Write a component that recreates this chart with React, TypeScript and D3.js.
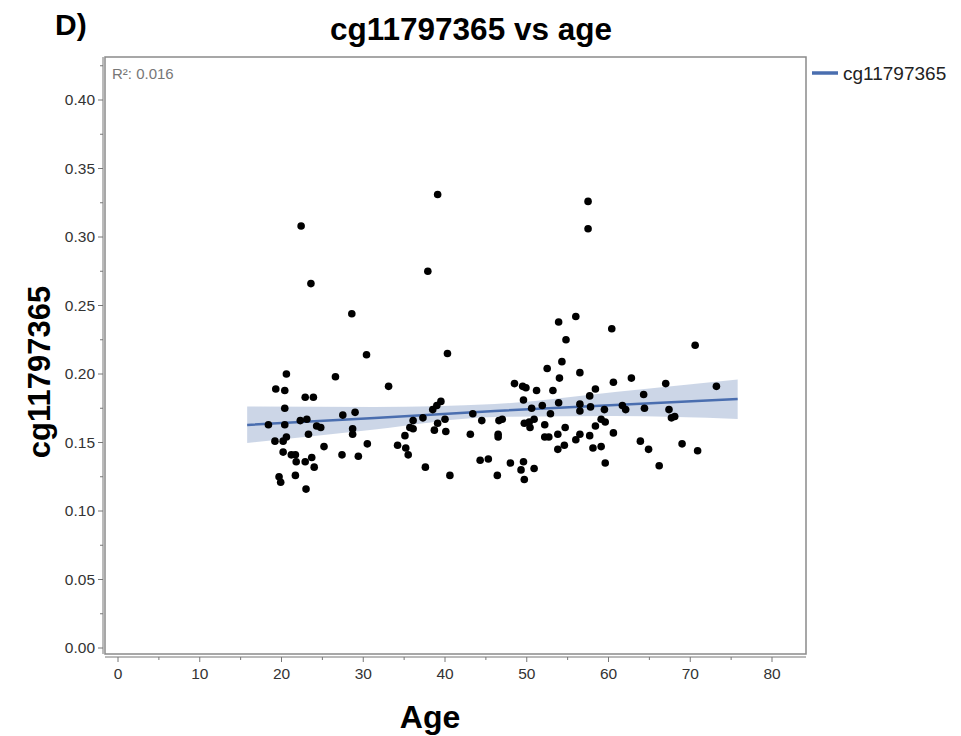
import * as d3 from 'd3'

// Age (years) of each sample
const ages: number[] = [
  39.1, 22.4, 37.9, 23.6, 28.6, 30.4, 40.3, 57.5, 57.5, 53.9, 56.0, 60.4, 54.8, 54.3, 52.5, 56.5, 54.0, 62.8, 60.6, 70.6, 20.6, 26.6,
  19.3, 20.4, 22.9, 23.9, 20.4, 27.5, 29.0, 18.4, 20.4, 22.3, 23.1, 24.3, 24.8, 28.7, 28.7, 23.3, 19.2, 20.2, 20.6, 30.5, 25.2, 20.2,
  21.2, 21.7, 21.8, 22.9, 23.7, 24.0, 27.4, 29.4, 21.7, 19.7, 19.9, 23.0,
  33.1, 39.5, 39.0, 38.5, 36.1, 37.3, 40.0, 43.4, 44.5, 35.7, 36.1, 39.1, 38.7, 40.1, 43.1, 35.1, 34.2, 35.2, 35.5, 37.6, 40.6, 44.3, 45.3,
  48.5, 49.5, 49.9, 51.2, 53.2, 58.4, 57.7, 49.6, 51.9, 53.9, 56.5, 50.6, 57.8, 56.5, 52.9, 59.5, 46.6, 47.0, 49.7, 50.3, 50.9, 50.4,
  52.2, 54.7, 58.4, 59.1, 59.6, 46.5, 46.5, 52.2, 52.7, 53.8, 56.5, 57.7, 60.6, 56.0, 54.6, 53.8, 58.1, 59.1, 48.0, 49.6, 49.3, 50.9,
  59.6, 46.4, 49.7,
  67.0, 73.2, 64.3, 61.7, 62.1, 64.4, 67.4, 68.1, 67.7, 63.9, 64.9, 69.0, 70.9, 66.2,
]

// cg11797365 methylation value for each sample (same order as ages)
const values: number[] = [
  0.331, 0.308, 0.275, 0.266, 0.244, 0.214, 0.215, 0.326, 0.306, 0.238, 0.242, 0.233, 0.225, 0.209, 0.204, 0.201, 0.197, 0.197, 0.194, 0.221, 0.200, 0.198,
  0.189, 0.188, 0.183, 0.183, 0.175, 0.170, 0.172, 0.163, 0.163, 0.166, 0.167, 0.162, 0.161, 0.160, 0.156, 0.156, 0.151, 0.151, 0.154, 0.149, 0.147, 0.143,
  0.141, 0.141, 0.136, 0.136, 0.139, 0.132, 0.141, 0.140, 0.126, 0.125, 0.121, 0.116,
  0.191, 0.180, 0.177, 0.174, 0.166, 0.168, 0.167, 0.171, 0.166, 0.161, 0.160, 0.164, 0.159, 0.158, 0.156, 0.155, 0.148, 0.146, 0.141, 0.132, 0.126, 0.137, 0.138,
  0.193, 0.191, 0.190, 0.188, 0.188, 0.189, 0.184, 0.181, 0.177, 0.179, 0.178, 0.175, 0.176, 0.173, 0.171, 0.174, 0.166, 0.167, 0.164, 0.165, 0.167, 0.161,
  0.163, 0.161, 0.162, 0.167, 0.165, 0.156, 0.154, 0.154, 0.154, 0.156, 0.156, 0.155, 0.157, 0.152, 0.148, 0.145, 0.146, 0.147, 0.135, 0.136, 0.130, 0.131,
  0.135, 0.126, 0.123,
  0.193, 0.191, 0.185, 0.177, 0.174, 0.175, 0.174, 0.169, 0.168, 0.151, 0.145, 0.149, 0.144, 0.133,
]

// linear fit with its confidence band
const fitAges = [15.8, 31.4, 46.1, 60.8, 75.8]
const fitValues = [0.1628, 0.1679, 0.1730, 0.1774, 0.1818]
const fitLower = [0.1496, 0.1595, 0.1686, 0.1693, 0.1672]
const fitUpper = [0.1763, 0.1759, 0.1781, 0.1869, 0.1960]

const xTicks = [0, 10, 20, 30, 40, 50, 60, 70, 80]
const xMinor = [5, 15, 25, 35, 45, 55, 65, 75]
const yTicks = [0, 0.05, 0.1, 0.15, 0.2, 0.25, 0.3, 0.35, 0.4]
const yMinor = [0.025, 0.075, 0.125, 0.175, 0.225, 0.275, 0.325, 0.375, 0.425]

const probe = 'cg11797365'
const r2Label = 'R²: 0.016'

const FONT = '"Liberation Sans", Arial, sans-serif'

export default function App() {
  const box = { left: 105, right: 806, top: 57, bottom: 654 }
  const x = d3.scaleLinear().domain([0, 80]).range([118, 772])
  const y = d3.scaleLinear().domain([0, 0.4]).range([648, 100])

  const fit = fitAges.map((a, i) => ({ a, v: fitValues[i], lo: fitLower[i], hi: fitUpper[i] }))
  const band = d3
    .area<{ a: number; lo: number; hi: number }>()
    .x((d) => x(d.a))
    .y0((d) => y(d.lo))
    .y1((d) => y(d.hi))
    .curve(d3.curveMonotoneX)
  const line = d3
    .line<{ a: number; v: number }>()
    .x((d) => x(d.a))
    .y((d) => y(d.v))

  const axisY = box.left - 2
  const axisX = box.bottom + 3

  return (
    <div style={{ position: 'absolute', left: 0, top: 0 }}>
      <svg width={961} height={736} style={{ display: 'block', background: '#fff' }} fontFamily={FONT}>
        <text x={55} y={35} fontSize={30} fontWeight="bold" fill="#000">D)</text>
        <text x={471} y={40} textAnchor="middle" fontSize={31.5} fontWeight="bold" fill="#000">
          {probe} vs age
        </text>

        {/* confidence band and fit */}
        <path d={band(fit) ?? ''} fill="#c3cfe3" fillOpacity={0.85} />
        <path d={line(fit) ?? ''} fill="none" stroke="#4a6eaf" strokeWidth={2.5} />

        {/* points */}
        {ages.map((a, i) => (
          <circle key={i} cx={x(a)} cy={y(values[i])} r={3.8} fill="#000" />
        ))}

        {/* frame */}
        <rect
          x={box.left}
          y={box.top}
          width={box.right - box.left}
          height={box.bottom - box.top}
          fill="none"
          stroke="#8a8a8a"
          strokeWidth={1.5}
        />

        <text x={112} y={79} fontSize={15} fill="#777">{r2Label}</text>

        {/* y axis */}
        <line x1={axisY} x2={axisY} y1={box.top} y2={box.bottom} stroke="#777" strokeWidth={1} />
        {yTicks.map((t) => (
          <g key={t}>
            <line x1={axisY - 5} x2={axisY} y1={y(t)} y2={y(t)} stroke="#777" />
            <text x={axisY - 8} y={y(t) + 5} textAnchor="end" fontSize={15.5} fill="#333">
              {d3.format('.2f')(t)}
            </text>
          </g>
        ))}
        {yMinor.map((t) => (
          <line key={t} x1={axisY - 3} x2={axisY} y1={y(t)} y2={y(t)} stroke="#777" />
        ))}

        {/* x axis */}
        <line x1={box.left} x2={box.right} y1={axisX} y2={axisX} stroke="#777" strokeWidth={1} />
        {xTicks.map((t) => (
          <g key={t}>
            <line x1={x(t)} x2={x(t)} y1={axisX} y2={axisX + 5} stroke="#777" />
            <text x={x(t)} y={axisX + 22} textAnchor="middle" fontSize={15.5} fill="#333">
              {t}
            </text>
          </g>
        ))}
        {xMinor.map((t) => (
          <line key={t} x1={x(t)} x2={x(t)} y1={axisX} y2={axisX + 3} stroke="#777" />
        ))}

        {/* axis titles */}
        <text x={430} y={728} textAnchor="middle" fontSize={32} fontWeight="bold" fill="#000">Age</text>
        <text
          transform={`translate(50,${(y(0.1) + y(0.3)) / 2 - 2}) rotate(-90)`}
          textAnchor="middle"
          fontSize={31}
          fontWeight="bold"
          fill="#000"
        >
          {probe}
        </text>

        {/* legend */}
        <line x1={812} x2={838} y1={73} y2={73} stroke="#4a6eaf" strokeWidth={3.5} />
        <text x={843} y={80} fontSize={19} fill="#222">{probe}</text>
      </svg>
    </div>
  )
}
